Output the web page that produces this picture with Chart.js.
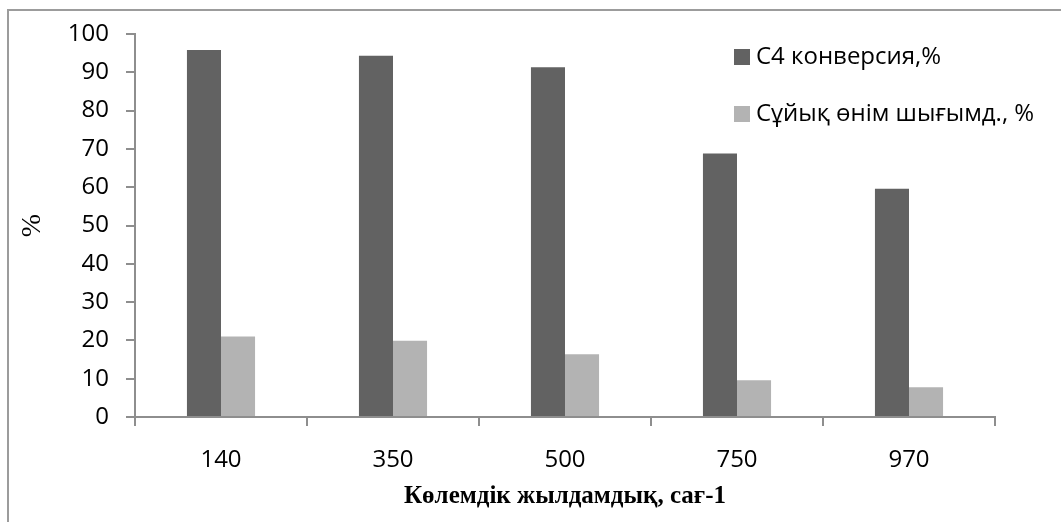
<!DOCTYPE html>
<html>
<head>
<meta charset="utf-8">
<script src="https://cdn.jsdelivr.net/npm/chart.js@4"></script>
<style>
  body { margin: 0; background: #fff; }
  #frame {
    position: absolute; left: 7px; top: 9px; width: 1100px; height: 600px;
    border-left: 2px solid #9c9c9c; border-top: 2px solid #9c9c9c;
  }
  #wrap { position: absolute; left: 0; top: 0; width: 1061px; height: 522px; }
</style>
</head>
<body>
<div id="frame"></div>
<div id="wrap"><canvas id="barChart"></canvas></div>
<script>
var categories = ["140", "350", "500", "750", "970"];
var conversion = [95.8, 94.3, 91.3, 68.8, 59.6];
var liquidYield = [21.0, 19.9, 16.4, 9.6, 7.8];
var seriesNames = ["C4 конверсия,%", "Сұйық өнім шығымд., %"];
var xTitle = "Көлемдік жылдамдық, сағ-1";
var yTitle = "%";

var axisGray = "#8e8e8e";

// legend drawn on top of the plot, like the original
var sideLegend = {
  id: "sideLegend",
  afterDraw: function (chart) {
    var c = chart.ctx;
    c.save();
    c.font = "24px 'Open Sans'";
    c.textBaseline = "middle";
    c.textAlign = "left";
    chart.data.datasets.forEach(function (ds, i) {
      var y = 57 + i * 57;
      c.fillStyle = ds.backgroundColor;
      c.fillRect(734, y - 8, 16, 16);
      c.fillStyle = "#000";
      c.fillText(ds.label, 756, y);
    });
    c.restore();
  }
};

var ctx = document.getElementById("barChart");
var barChart = new Chart(ctx, {
  type: "bar",
  data: {
    labels: categories,
    datasets: [
      {
        label: seriesNames[0],
        data: conversion,
        backgroundColor: "#626262",
      },
      {
        label: seriesNames[1],
        data: liquidYield,
        backgroundColor: "#b3b3b3",
      },
    ],
  },
  options: {
    responsive: true,
    maintainAspectRatio: false,
    animation: false,
    categoryPercentage: 0.396,
    barPercentage: 1,
    layout: {
      padding: { left: 0, top: 34, right: 66, bottom: 0 },
    },
    plugins: {
      legend: { display: false },
      tooltip: { enabled: false },
    },
    scales: {
      x: {
        afterFit: function (scale) { scale.height = 105; },
        border: { color: axisGray, width: 2 },
        grid: {
          drawOnChartArea: false,
          color: axisGray,
          lineWidth: 2,
          tickLength: 9,
        },
        ticks: {
          color: "#000",
          padding: 20,
          font: { family: "'Open Sans'", size: 24 },
        },
        title: {
          display: true,
          text: xTitle,
          color: "#000",
          font: { family: "'Liberation Serif'", size: 25, weight: "bold" },
          padding: { top: 0, bottom: 10 },
        },
      },
      y: {
        min: 0,
        max: 100,
        afterFit: function (scale) { scale.width = 135; },
        border: { color: axisGray, width: 2 },
        grid: {
          drawOnChartArea: false,
          color: axisGray,
          lineWidth: 2,
          tickLength: 9,
        },
        ticks: {
          stepSize: 10,
          color: "#000",
          padding: 17,
          font: { family: "'Open Sans'", size: 24 },
        },
        title: {
          display: true,
          text: yTitle,
          color: "#000",
          font: { family: "'Liberation Serif'", size: 28 },
          padding: { top: 16, bottom: 0 },
        },
      },
    },
  },
  plugins: [sideLegend],
});
</script>
</body>
</html>
